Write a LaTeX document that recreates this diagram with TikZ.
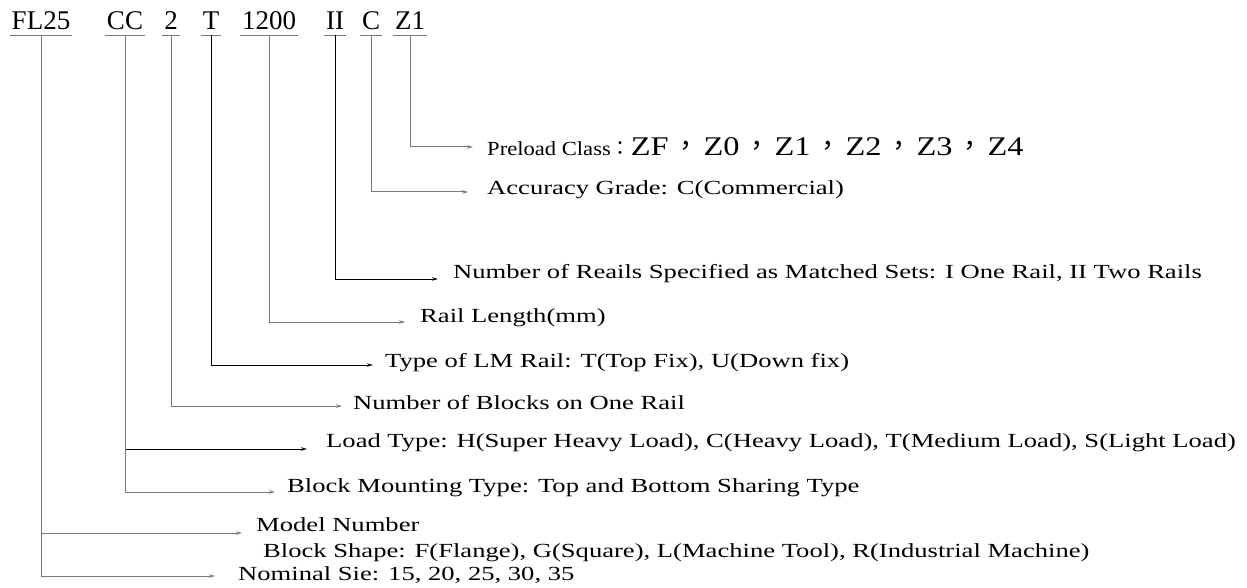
\documentclass[tikz,border=0pt]{standalone}
\usepackage{fontspec}
\setmainfont{Liberation Serif}
\newfontfamily\descfont{Liberation Serif}[FakeStretch=1.33]
\newfontfamily\prefont{Liberation Serif}[FakeStretch=1.13]
\newfontfamily\zfont{Liberation Serif}[FakeStretch=1.2]
\newfontfamily\cjkfont{Noto Sans CJK TC}
\usetikzlibrary{arrows.meta}
\definecolor{linegray}{RGB}{120,120,120}

\newcommand{\zsep}{\hspace{4pt}{\cjkfont ，}\hspace{4pt}}

\tikzset{
  code/.style={anchor=base, inner xsep=2pt, inner ysep=0pt, text depth=0pt,
    font=\fontsize{27}{30}\selectfont},
  desc/.style={anchor=west, inner sep=0pt, font=\descfont\fontsize{20}{22}\selectfont},
  conn/.style={draw=linegray, line width=1pt, -{Stealth[length=6pt,width=3.5pt]}},
}

\begin{document}
\begin{tikzpicture}[x=1pt, y=-1pt]
\useasboundingbox (0,0) rectangle (1247,588);

% model code, each part underlined
\foreach \name/\txt/\x in {fl/FL25/41, cc/CC/125, two/2/171, t/T/211,
                           len/1200/269, rails/II/335, acc/C/371, pre/Z1/410} {
  \node[code] (\name) at (\x,30) {\txt};
  \draw[linegray, line width=1pt] ([yshift=-5pt]\name.south west) -- ([yshift=-5pt]\name.south east);
}

% arrow ends
\coordinate (pretip)   at (473,147);
\coordinate (acctip)   at (468,192);
\coordinate (railstip) at (438,279);
\coordinate (lentip)   at (405,322);
\coordinate (ttip)     at (373,365);
\coordinate (twotip)   at (342,406);
\coordinate (loadtip)  at (307,449);
\coordinate (mounttip) at (275,492);
\coordinate (modeltip) at (242,533);
\coordinate (sizetip)  at (215,576);

% descriptions
\node[desc] (predesc) at (487,147) {{\prefont Preload Class}{\cjkfont ：}{\zfont\fontsize{27}{30}\selectfont
  ZF\zsep Z0\zsep Z1\zsep Z2\zsep Z3\zsep Z4}};
\node[desc] (accdesc)   at (487,190) {Accuracy Grade: C(Commercial)};
\node[desc] (railsdesc) at (453,274) {Number of Reails Specified as Matched Sets: I One Rail, II Two Rails};
\node[desc] (lendesc)   at (420,318) {Rail Length(mm)};
\node[desc] (tdesc)     at (385,363) {Type of LM Rail: T(Top Fix), U(Down fix)};
\node[desc] (twodesc)   at (353,403) {Number of Blocks on One Rail};
\node[desc] (loaddesc)  at (326,443) {Load Type: H(Super Heavy Load), C(Heavy Load), T(Medium Load), S(Light Load)};
\node[desc] (mountdesc) at (287,488) {Block Mounting Type: Top and Bottom Sharing Type};
\node[desc] (modeldesc) at (256,525) {Model Number};
\node[desc] (shapedesc) at (263,553) {Block Shape: F(Flange), G(Square), L(Machine Tool), R(Industrial Machine)};
\node[desc] (sizedesc)  at (238,575) {Nominal Sie: 15, 20, 25, 30, 35};

% connectors
\draw[conn] ([yshift=-5pt]pre.south) |- (pretip);
\draw[conn] ([yshift=-5pt]acc.south) |- (acctip);
\draw[conn, draw=black] ([yshift=-5pt]rails.south) |- (railstip);
\draw[conn] ([yshift=-5pt]len.south) |- (lentip);
\draw[conn, draw=black] ([yshift=-5pt]t.south) |- (ttip);
\draw[conn] ([yshift=-5pt]two.south) |- (twotip);
\draw[conn, draw=black] ([yshift=-5pt]cc.south) |- (loadtip);
\draw[conn] ([yshift=-5pt]cc.south) |- (mounttip);
\draw[conn] ([yshift=-5pt]fl.south) |- (modeltip);
\draw[conn] ([yshift=-5pt]fl.south) |- (sizetip);
\end{tikzpicture}
\end{document}
